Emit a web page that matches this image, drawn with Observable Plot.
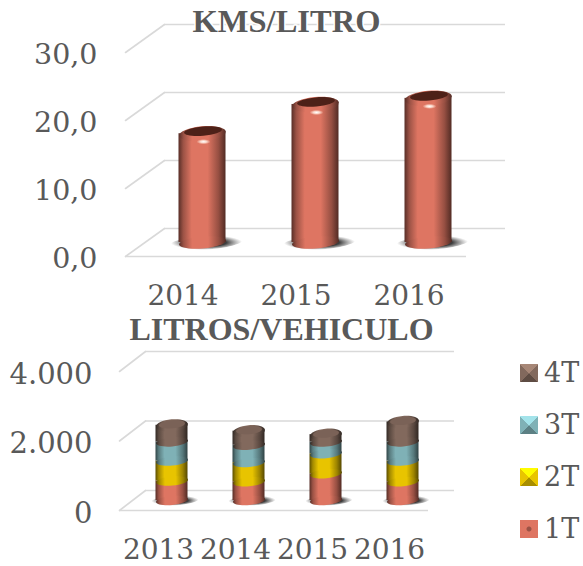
<!DOCTYPE html>
<html><head><meta charset="utf-8">
<script src="https://cdn.jsdelivr.net/npm/d3@7"></script>
<script src="https://cdn.jsdelivr.net/npm/@observablehq/plot@0.6"></script>
<style>
html,body{margin:0;padding:0;background:#fff}
#wrap{position:relative;width:583px;height:566px;overflow:hidden}
#wrap svg.plot-chart{display:block}
.lg{position:absolute;left:520px;width:18px;height:18px}
.lt{position:absolute;left:544px;font:27px "DejaVu Serif",serif;color:#595959;line-height:30px}
</style></head><body><div id="wrap"></div>
<script>
const kmsYears = ["2014","2015","2016"];
const kmsValues = [16.0,20.3,21.2];
const kmsTicks = [0,10,20,30];
const litYears = ["2013","2014","2015","2016"];
const litSeries = ["1T","2T","3T","4T"];
const lit1T = [560,540,770,540];
const lit2T = [575,550,575,595];
const lit3T = [550,500,335,550];
const lit4T = [480,405,215,575];
const litTicks = [0,2000,4000];
const seriesColors = ["#de7562","#e8c400","#7fb1b6","#82695d"];
const legendOrder = ["4T","3T","2T","1T"];
const gridColor = "#d9d9d9", textColor = "#595959";
const serif = '"Liberation Serif",serif';
const tickFont = '"DejaVu Serif",serif';

const wrap = document.getElementById("wrap");
const shade = (c,k)=>d3.color(c).darker(k).formatHex();

function defs(){
  const ns="http://www.w3.org/2000/svg";
  const d=document.createElementNS(ns,"defs");
  let html="";
  seriesColors.forEach((c,i)=>{
    html+=`<linearGradient id="cyl${i}" x1="0" x2="1" y1="0" y2="0">
      <stop offset="0" stop-color="${shade(c,2.6)}"/><stop offset=".1" stop-color="${shade(c,1)}"/>
      <stop offset=".28" stop-color="${c}"/><stop offset=".62" stop-color="${c}"/>
      <stop offset=".85" stop-color="${shade(c,1.1)}"/><stop offset="1" stop-color="${shade(c,2.8)}"/></linearGradient>`;
  });
  html+=`<radialGradient id="shadow"><stop offset=".55" stop-color="#333" stop-opacity=".95"/><stop offset="1" stop-color="#666" stop-opacity="0"/></radialGradient>
  <radialGradient id="hl"><stop offset="0" stop-color="#fff"/><stop offset=".45" stop-color="#ffe8dc" stop-opacity=".85"/><stop offset="1" stop-color="#ffd8c8" stop-opacity="0"/></radialGradient>`;
  d.innerHTML=html;
  return d;
}

function ellipse(rx,ry,deg){
  const t=deg*Math.PI/180,c=Math.cos(t),s=Math.sin(t),k=0.5523;
  const P=(x,y)=>[x*rx*c-y*ry*s,x*rx*s+y*ry*c];
  return {draw(ctx){
    ctx.moveTo(...P(1,0));
    ctx.bezierCurveTo(...P(1,k),...P(k,1),...P(0,1));
    ctx.bezierCurveTo(...P(-k,1),...P(-1,k),...P(-1,0));
    ctx.bezierCurveTo(...P(-1,-k),...P(-k,-1),...P(0,-1));
    ctx.bezierCurveTo(...P(k,-1),...P(1,-k),...P(1,0));
    ctx.closePath();
  }};
}
const spoke={draw(ctx,l){ctx.moveTo(0,0);ctx.lineTo(0,-l);}};

function frameMarks(ticks,dx,dy){
  const angle=Math.atan2(dx,-dy)*180/Math.PI, len=Math.hypot(dx,dy);
  return [
    Plot.ruleY(ticks.slice(0,1),{stroke:gridColor,strokeWidth:1.6}),
    Plot.ruleY(ticks,{dx,dy,stroke:gridColor,strokeWidth:1.6}),
    Plot.vector(ticks,{y:d=>d,frameAnchor:"left",rotate:angle,length:len,anchor:"start",shape:spoke,stroke:gridColor,strokeWidth:1.6})
  ];
}

// KMS/LITRO
const kmsRows = kmsYears.map((year,i)=>({year,value:kmsValues[i]}));
{
  const dx=39,dy=-28,bdx=19.5,bdy=-14;
  const chart=Plot.plot({
    width:583,height:310,marginLeft:125,marginRight:117,marginTop:52,marginBottom:54,
    style:{background:"transparent",overflow:"visible"},
    x:{type:"band",domain:kmsYears,paddingInner:0.587,paddingOuter:0.2935,align:0.5,label:null},
    y:{domain:[0,30],label:null},
    marks:[
      defs,
      ...frameMarks(kmsTicks,dx,dy),
      Plot.axisY(kmsTicks,{tickSize:0,tickPadding:28,dy:2,label:null,fontSize:28.5,fontFamily:tickFont,fill:textColor,tickFormat:d=>d3.format(".1f")(d).replace(".",",")}),
      Plot.axisX({tickSize:0,tickPadding:29,label:null,fontSize:28,fontFamily:tickFont,fill:textColor}),
      Plot.dot(kmsRows,{x:"year",y:()=>0,dx:bdx+4,dy:bdy,symbol:ellipse(36,7,-4),fill:"url(#shadow)"}),
      Plot.barY(kmsRows,{x:"year",y1:()=>0,y2:"value",dx:bdx,dy:bdy,fill:"url(#cyl0)"}),
      Plot.dot(kmsRows,{x:"year",y:()=>0,dx:bdx,dy:bdy,symbol:ellipse(23.5,6,-5),fill:"url(#cyl0)"}),
      Plot.dot(kmsRows,{x:"year",y:"value",dx:bdx,dy:bdy,symbol:ellipse(23.5,7.5,-5),fill:"url(#cyl0)"}),
      Plot.dot(kmsRows,{x:"year",y:"value",dx:bdx+.5,dy:bdy-2.5,symbol:ellipse(19,4.6,-5),fill:"#4d2118"}),
      Plot.dot(kmsRows,{x:"year",y:"value",dx:bdx+1,dy:bdy+8,symbol:ellipse(7,2.6,0),fill:"url(#hl)"}),
      Plot.text(["KMS/LITRO"],{frameAnchor:"top-left",dx:286-125,dy:21-52,textAnchor:"middle",lineAnchor:"middle",fontFamily:serif,fontWeight:"bold",fontSize:32.5,fill:textColor,stroke:"white",strokeWidth:3})
    ]
  });
  wrap.appendChild(chart);
}

// LITROS/VEHICULO
const litValues=[lit1T,lit2T,lit3T,lit4T];
const litRows=[];
litYears.forEach((year,i)=>{let sum=0;litSeries.forEach((series,s)=>{const v=litValues[s][i];litRows.push({year,series,s,y1:sum,y2:sum+v});sum+=v;});});
{
  const dx=26,dy=-20,bdx=13.5,bdy=-10;
  const layers=litSeries.flatMap((series,s)=>{
    const rows=litRows.filter(d=>d.series===series);
    return [
      Plot.barY(rows,{x:"year",y1:"y1",y2:"y2",dx:bdx,dy:bdy,fill:`url(#cyl${s})`}),
      Plot.dot(rows,{x:"year",y:"y1",dx:bdx,dy:bdy,symbol:ellipse(16,4.5,-5),fill:`url(#cyl${s})`})
    ];
  });
  const tops=litRows.filter(d=>d.series==="4T");
  const chart=Plot.plot({
    width:583,height:256,marginLeft:119,marginRight:155,marginTop:61,marginBottom:56,
    style:{background:"transparent",overflow:"visible"},
    x:{type:"band",domain:litYears,paddingInner:0.586,paddingOuter:0.293,align:0.5,label:null},
    y:{domain:[0,4000],label:null},
    marks:[
      ...frameMarks(litTicks,dx,dy),
      Plot.axisY(litTicks,{tickSize:0,tickPadding:27,dy:3,label:null,fontSize:29,fontFamily:tickFont,fill:textColor,tickFormat:d=>d3.format(",")(d).replace(",",".")}),
      Plot.axisX({tickSize:0,tickPadding:29,label:null,fontSize:28,fontFamily:tickFont,fill:textColor}),
      Plot.dot(litYears,{x:d=>d,y:()=>0,dx:bdx+3,dy:bdy,symbol:ellipse(24,5,-4),fill:"url(#shadow)"}),
      ...layers,
      Plot.dot(tops,{x:"year",y:"y2",dx:bdx,dy:bdy,symbol:ellipse(16,6,-5),fill:"url(#cyl3)"}),
      Plot.dot(tops,{x:"year",y:"y2",dx:bdx,dy:bdy-1,symbol:ellipse(13,4,-5),fill:"#7a6257"}),
      Plot.text(["LITROS/VEHICULO"],{frameAnchor:"top-left",dx:281-119,dy:19-61,textAnchor:"middle",lineAnchor:"middle",fontFamily:serif,fontWeight:"bold",fontSize:32,fill:textColor})
    ]
  });
  wrap.appendChild(chart);
}

// legend
legendOrder.forEach((name,i)=>{
  const c=seriesColors[litSeries.indexOf(name)];
  const top=364+i*52;
  const sw=document.createElement("div");
  sw.className="lg";sw.style.top=top+"px";
  const lo=d3.color(c).brighter(.7).formatHex(),da=shade(c,.9);
  sw.style.background=name==="1T"
    ?`radial-gradient(circle at 50% 50%, ${shade(c,1)} 0 2px, ${c} 3px)`
    :`conic-gradient(from -45deg, ${lo} 0 90deg, ${c} 90deg 180deg, ${da} 180deg 270deg, ${c} 270deg)`;
  wrap.appendChild(sw);
  const t=document.createElement("div");
  t.className="lt";t.style.top=(top-6)+"px";t.textContent=name;
  wrap.appendChild(t);
});
</script></body></html>
